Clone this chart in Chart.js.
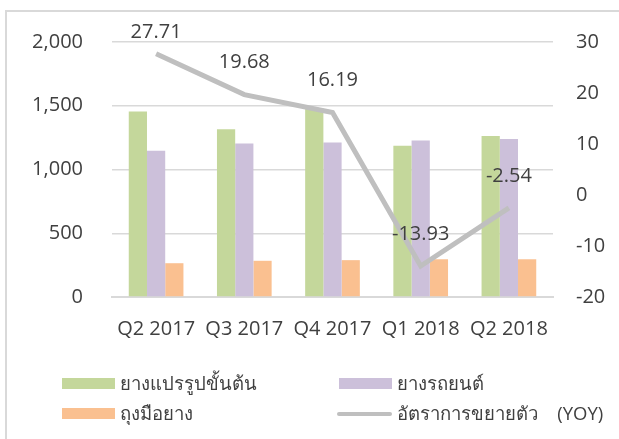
<!DOCTYPE html>
<html>
<head>
<meta charset="utf-8">
<script src="https://cdn.jsdelivr.net/npm/chart.js@4.4.1/dist/chart.umd.min.js"></script>
<style>
  body { margin: 0; background: #fff; font-family: "Open Sans", "Noto Sans", sans-serif; }
  #frame { position: absolute; left: 5px; top: 10px; width: 700px; height: 500px;
           border-left: 2px solid #d9d9d9; border-top: 2px solid #d9d9d9; }
  #wrap { position: absolute; left: 0; top: 0; width: 619px; height: 439px; }
  .lg { position: absolute; display: flex; align-items: center; font-size: 18.5px; color: #404040; white-space: pre; }
  .lg .sw { width: 53px; height: 11px; margin-right: 5px; }
  .lg .ln { width: 55px; height: 4px; border-radius: 2px; margin-right: 5px; }
</style>
</head>
<body>
<div id="frame"></div>
<div id="wrap"><canvas id="myChart" width="619" height="439"></canvas></div>
<div id="legend"></div>
<script>
let quarters = ["Q2 2017", "Q3 2017", "Q4 2017", "Q1 2018", "Q2 2018"];
let processedRubber = [1455, 1315, 1480, 1187, 1263];
let tyres = [1148, 1203, 1211, 1227, 1240];
let gloves = [265, 284, 289, 296, 296];
let growthYoY = [27.71, 19.68, 16.19, -13.93, -2.54];

let seriesNames = ["ยางแปรรูปขั้นต้น", "ยางรถยนต์", "ถุงมือยาง", "อัตราการขยายตัว    (YOY)"];

// values written above the grey line
const pointLabels = {
  id: "pointLabels",
  afterDatasetsDraw(chart) {
    const ctx = chart.ctx;
    const meta = chart.getDatasetMeta(3);
    ctx.save();
    ctx.font = "20px 'Open Sans'";
    ctx.fillStyle = "#404040";
    ctx.textAlign = "center";
    ctx.textBaseline = "middle";
    meta.data.forEach(function(pt, i) {
      let y = Math.max(pt.y - 32, chart.chartArea.top - 10);
      ctx.fillText(growthYoY[i].toFixed(2), pt.x, y);
    });
    ctx.restore();
  }
};

const ctx = document.getElementById("myChart").getContext("2d");
const myChart = new Chart(ctx, {
  type: "bar",
  data: {
    labels: quarters,
    datasets: [
      { label: seriesNames[0], data: processedRubber, backgroundColor: "#c4d79b", yAxisID: "y", order: 1 },
      { label: seriesNames[1], data: tyres, backgroundColor: "#ccc0da", yAxisID: "y", order: 1 },
      { label: seriesNames[2], data: gloves, backgroundColor: "#fac090", yAxisID: "y", order: 1 },
      { label: seriesNames[3], data: growthYoY, type: "line", borderColor: "#bfbfbf", backgroundColor: "#bfbfbf",
        borderWidth: 5, pointRadius: 0, tension: 0, yAxisID: "y1", order: 0 }
    ]
  },
  options: {
    responsive: false,
    animation: false,
    layout: { padding: { top: 42, bottom: 0, left: 0, right: 0 } },
    datasets: { bar: { categoryPercentage: 0.62, barPercentage: 1.0 } },
    plugins: { legend: { display: false }, tooltip: { enabled: false } },
    scales: {
      x: {
        grid: { display: false, drawTicks: false },
        border: { color: "#d9d9d9", width: 2 },
        ticks: { color: "#404040", font: { family: "Open Sans", size: 20 }, padding: 20,
                 maxRotation: 0, autoSkip: false },
        afterFit(scale) { scale.height = 142; }
      },
      y: {
        position: "left",
        min: 0, max: 2000,
        ticks: { stepSize: 500, color: "#404040", font: { family: "Open Sans", size: 20 }, padding: 29 },
        grid: { color: "#d9d9d9", lineWidth: 1.5, drawTicks: false },
        border: { display: false },
        afterFit(scale) { scale.width = 112; }
      },
      y1: {
        position: "right",
        min: -20, max: 30,
        ticks: { stepSize: 10, color: "#404040", font: { family: "Open Sans", size: 20 }, padding: 23 },
        grid: { display: false, drawTicks: false },
        border: { display: false },
        afterFit(scale) { scale.width = 66; }
      }
    }
  },
  plugins: [pointLabels]
});

// legend in two columns, like the original
const legendPos = [[62, 383], [339, 383], [62, 413], [337, 413]];
const legendBox = document.getElementById("legend");
myChart.data.datasets.forEach(function(ds, i) {
  const item = document.createElement("div");
  item.className = "lg";
  const mark = document.createElement("span");
  if (ds.type === "line") {
    mark.className = "ln";
    mark.style.background = ds.borderColor;
  } else {
    mark.className = "sw";
    mark.style.background = ds.backgroundColor;
  }
  const txt = document.createElement("span");
  txt.textContent = ds.label;
  item.appendChild(mark);
  item.appendChild(txt);
  item.style.left = legendPos[i][0] + "px";
  item.style.top = (legendPos[i][1] - 14) + "px";
  legendBox.appendChild(item);
});
</script>
</body>
</html>
